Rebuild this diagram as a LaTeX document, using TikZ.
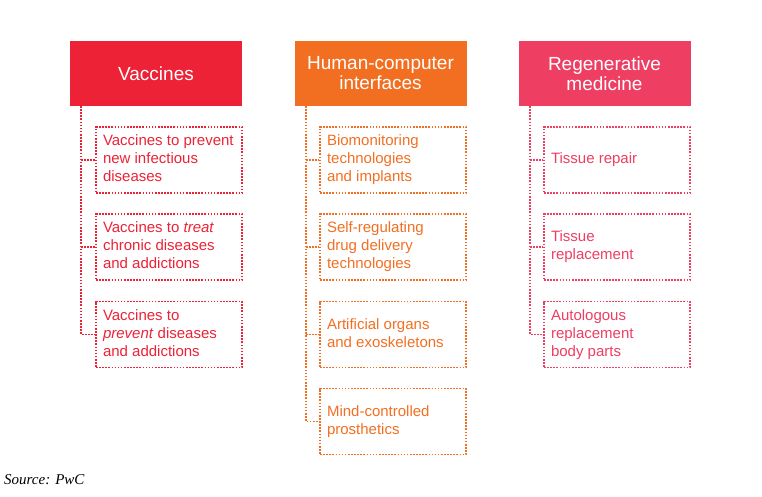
\documentclass[tikz,border=0pt]{standalone}
\usepackage{fontspec}
\setmainfont{Liberation Sans}
\newfontfamily\srcfont{Liberation Serif}
\definecolor{cred}{HTML}{ED2236}
\definecolor{corange}{HTML}{F26F22}
\definecolor{cpink}{HTML}{EE3E62}
\newcommand{\itmtext}[1]{\makebox[132pt][l]{\raisebox{-1.5pt}{\begin{tabular}{@{}l@{}}#1\end{tabular}}}}
\tikzset{
  hdr/.style={fill=#1, text=white, minimum width=172pt, minimum height=65pt, inner sep=0pt,
    align=center, font=\fontsize{19}{20}\selectfont},
  item/.style={draw=#1, text=#1, line width=1.7pt, dash pattern=on 1.6pt off 1.5pt,
    minimum height=66pt, minimum width=146pt, inner xsep=7pt, inner ysep=0pt,
    font=\fontsize{15}{18}\selectfont},
  link/.style={draw=#1, line width=1.7pt, dash pattern=on 1.6pt off 1.5pt},
}
\begin{document}
\begin{tikzpicture}[x=1pt,y=-1pt]
\useasboundingbox (0,0) rectangle (762,496);
% headers
\node[hdr=cred]    (h1) at (156,73.5) {Vaccines};
\node[hdr=corange] (h2) at (380.5,73.5) {Human-computer\\interfaces};
\node[hdr=cpink]   (h3) at (604.5,73.5) {Regenerative\\medicine};
% column 1
\node[item=cred] (a1) at (169,160) {\itmtext{Vaccines to prevent\\new infectious\\diseases}};
\node[item=cred] (a2) at (169,247) {\itmtext{Vaccines to \textit{treat}\\chronic diseases\\and addictions}};
\node[item=cred] (a3) at (169,334.5) {\itmtext{Vaccines to\\\textit{prevent} diseases\\and addictions}};
% column 2
\node[item=corange] (b1) at (393,160) {\itmtext{Biomonitoring\\technologies\\and implants}};
\node[item=corange] (b2) at (393,247) {\itmtext{Self-regulating\\drug delivery\\technologies}};
\node[item=corange] (b3) at (393,334.5) {\itmtext{Artificial organs\\and exoskeletons}};
\node[item=corange] (b4) at (393,421.5) {\itmtext{Mind-controlled\\prosthetics}};
% column 3
\node[item=cpink] (c1) at (617,160) {\itmtext{Tissue repair}};
\node[item=cpink] (c2) at (617,247) {\itmtext{Tissue\\replacement}};
\node[item=cpink] (c3) at (617,334.5) {\itmtext{Autologous\\replacement\\body parts}};
% trunks
\coordinate (t1) at (81,106);
\coordinate (t2) at (306,106);
\coordinate (t3) at (530,106);
\draw[link=cred] (t1) |- (a3.west);
\draw[link=cred] (t1 |- a1.west) -- (a1.west);
\draw[link=cred] (t1 |- a2.west) -- (a2.west);
\draw[link=corange] (t2) |- (b4.west);
\draw[link=corange] (t2 |- b1.west) -- (b1.west);
\draw[link=corange] (t2 |- b2.west) -- (b2.west);
\draw[link=corange] (t2 |- b3.west) -- (b3.west);
\draw[link=cpink] (t3) |- (c3.west);
\draw[link=cpink] (t3 |- c1.west) -- (c1.west);
\draw[link=cpink] (t3 |- c2.west) -- (c2.west);
% source
\node[anchor=west, inner sep=0pt, font=\srcfont\itshape\fontsize{15}{17}\selectfont] (src) at (4,480) {Source: PwC};
\end{tikzpicture}
\end{document}
